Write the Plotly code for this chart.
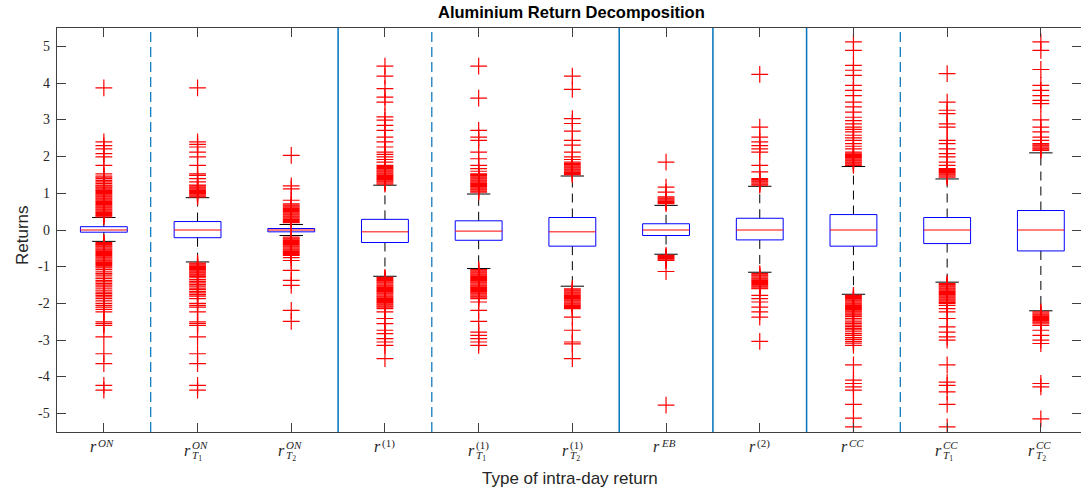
import plotly.graph_objects as go

# ---------------- data ----------------
sup_text = ["ON", "ON", "ON", "(1)", "(1)", "(1)", "EB", "(2)", "CC", "CC", "CC"]
sub_text = ["", "T1", "T2", "", "T1", "T2", "", "", "", "T1", "T2"]

q1 = [-0.06, -0.21, -0.05, -0.34, -0.28, -0.44, -0.15, -0.27, -0.44, -0.37, -0.57]
med = [0.0, 0.0, 0.0, -0.05, -0.03, -0.05, 0.0, 0.0, 0.0, 0.0, 0.0]
q3 = [0.09, 0.23, 0.04, 0.29, 0.25, 0.34, 0.17, 0.32, 0.42, 0.34, 0.53]
lower_fence = [-0.31, -0.87, -0.15, -1.26, -1.05, -1.53, -0.66, -1.15, -1.75, -1.42, -2.20]
upper_fence = [0.34, 0.88, 0.15, 1.22, 0.98, 1.47, 0.67, 1.19, 1.73, 1.39, 2.10]

out1 = [0.36, 0.39, 0.42, 0.45, 0.48, 0.51, 0.54, 0.57, 0.60, 0.63, 0.66, 0.69, 0.72, 0.75,
        0.78, 0.81, 0.84, 0.87, 0.90, 0.93, 0.96, 0.99, 1.02, 1.05, 1.08, 1.11, 1.14, 1.17,
        1.20, 1.22, 1.27, 1.31, 1.35, 1.40, 1.44, 1.47, 1.53, 1.76, 1.99, 2.08, 2.21, 2.30,
        2.40, 3.87,
        -0.34, -0.37, -0.40, -0.43, -0.46, -0.49, -0.52, -0.55, -0.58, -0.61, -0.64, -0.67,
        -0.70, -0.73, -0.76, -0.79, -0.82, -0.85, -0.88, -0.91, -0.94, -0.97, -1.00, -1.03,
        -1.08, -1.14, -1.19, -1.23, -1.28, -1.32, -1.37, -1.41, -1.46, -1.50, -1.55, -1.60,
        -1.64, -1.69, -1.73, -1.78, -1.82, -1.87, -1.93, -2.00, -2.05, -2.10, -2.16, -2.23,
        -2.50, -2.55, -2.60, -2.91, -3.37, -3.64, -4.23, -4.36]
out2 = [0.90, 0.93, 0.96, 0.99, 1.02, 1.05, 1.08, 1.11, 1.14, 1.17, 1.20, 1.22, 1.31, 1.40,
        1.49, 1.53, 1.76, 1.99, 2.12, 2.26, 2.33, 2.40, 3.87,
        -0.90, -0.93, -0.96, -0.99, -1.02, -1.05, -1.08, -1.11, -1.14, -1.17, -1.20, -1.23,
        -1.26, -1.30, -1.35, -1.40, -1.44, -1.49, -1.53, -1.58, -1.62, -1.67, -1.71, -1.76,
        -1.80, -1.87, -2.00, -2.05, -2.10, -2.23, -2.50, -2.55, -2.60, -2.91, -3.37, -3.64,
        -4.23, -4.36]
out3 = [0.20, 0.23, 0.26, 0.29, 0.32, 0.35, 0.38, 0.41, 0.44, 0.47, 0.50, 0.53, 0.56, 0.59,
        0.62, 0.65, 0.68, 0.71, 0.81, 1.12, 1.20, 2.03,
        -0.19, -0.22, -0.25, -0.28, -0.31, -0.34, -0.37, -0.40, -0.43, -0.46, -0.49, -0.52,
        -0.55, -0.58, -0.61, -0.64, -0.67, -0.69, -0.75, -0.83, -1.10, -1.37, -1.51, -2.19,
        -2.49]
out4 = [1.25, 1.28, 1.31, 1.34, 1.37, 1.40, 1.43, 1.46, 1.49, 1.52, 1.55, 1.58, 1.61, 1.64,
        1.67, 1.70, 1.73, 1.76, 1.85, 1.92, 1.99, 2.06, 2.12, 2.26, 2.40, 2.53, 2.71, 2.85,
        2.99, 3.08, 3.48, 3.62, 3.85, 4.19, 4.46,
        -1.29, -1.32, -1.35, -1.38, -1.41, -1.44, -1.47, -1.50, -1.53, -1.56, -1.59, -1.62,
        -1.65, -1.68, -1.71, -1.74, -1.77, -1.80, -1.83, -1.86, -1.89, -1.92, -1.95, -1.98,
        -2.01, -2.04, -2.07, -2.10, -2.14, -2.23, -2.41, -2.55, -2.73, -2.82, -2.96, -3.05,
        -3.14, -3.50]
out5 = [1.03, 1.06, 1.09, 1.12, 1.15, 1.18, 1.21, 1.24, 1.27, 1.30, 1.33, 1.36, 1.39, 1.42,
        1.45, 1.48, 1.51, 1.53, 1.60, 1.67, 1.76, 1.94, 2.12, 2.44, 2.53, 2.71, 3.59, 4.46,
        -1.08, -1.11, -1.14, -1.17, -1.20, -1.23, -1.26, -1.29, -1.32, -1.35, -1.38, -1.41,
        -1.44, -1.47, -1.50, -1.53, -1.56, -1.59, -1.62, -1.65, -1.68, -1.71, -1.74, -1.77,
        -1.80, -1.83, -1.87, -1.96, -2.19, -2.49, -2.78, -2.87, -2.96, -3.05, -3.14]
out6 = [1.51, 1.54, 1.57, 1.60, 1.63, 1.66, 1.69, 1.72, 1.75, 1.78, 1.81, 1.85, 1.92, 1.99,
        2.12, 2.31, 2.44, 2.69, 2.90, 3.03, 3.83, 4.19,
        -1.60, -1.63, -1.66, -1.69, -1.72, -1.75, -1.78, -1.81, -1.84, -1.87, -1.90, -1.93,
        -1.96, -1.99, -2.02, -2.05, -2.08, -2.11, -2.14, -2.37, -2.73, -3.05, -3.10, -3.50]
out7 = [0.72, 0.75, 0.78, 0.81, 0.84, 0.87, 0.90, 1.03, 1.17, 1.85,
        -0.69, -0.72, -0.75, -0.78, -0.81, -0.83, -1.13, -4.77]
out8 = [1.22, 1.25, 1.28, 1.31, 1.34, 1.37, 1.40, 1.58, 1.76, 2.12, 2.21, 2.30, 2.40, 2.53,
        2.80, 4.24,
        -1.19, -1.22, -1.25, -1.28, -1.31, -1.34, -1.37, -1.40, -1.43, -1.46, -1.49, -1.52,
        -1.55, -1.58, -1.60, -1.78, -1.87, -1.96, -2.10, -2.23, -2.37, -3.03]
out9 = [1.76, 1.79, 1.82, 1.85, 1.88, 1.91, 1.94, 1.97, 2.00, 2.03, 2.06, 2.09, 2.12, 2.21,
        2.28, 2.35, 2.44, 2.51, 2.58, 2.67, 2.74, 2.80, 2.89, 2.98, 3.07, 3.21, 3.35, 3.48,
        3.66, 3.80, 3.94, 4.21, 4.35, 4.48, 4.89, 5.12,
        -1.78, -1.81, -1.84, -1.87, -1.90, -1.93, -1.96, -1.99, -2.02, -2.05, -2.08, -2.11,
        -2.14, -2.17, -2.20, -2.23, -2.26, -2.29, -2.32, -2.36, -2.41, -2.45, -2.50, -2.54,
        -2.59, -2.63, -2.68, -2.72, -2.77, -2.82, -2.87, -2.93, -2.98, -3.03, -3.08, -3.14,
        -3.67, -4.09, -4.18, -4.27, -4.36, -4.75, -5.12, -5.36]
out10 = [1.44, 1.47, 1.50, 1.53, 1.56, 1.59, 1.62, 1.65, 1.67, 1.76, 1.85, 1.99, 2.08, 2.21,
         2.35, 2.44, 2.80, 2.89, 3.17, 3.26, 3.48, 4.26,
         -1.46, -1.49, -1.52, -1.55, -1.58, -1.61, -1.64, -1.67, -1.70, -1.73, -1.76, -1.79,
         -1.82, -1.85, -1.88, -1.91, -1.94, -1.97, -2.00, -2.05, -2.14, -2.23, -2.41, -2.64,
         -2.78, -2.91, -3.00, -3.67, -4.14, -4.23, -4.41, -4.75, -5.36]
out11 = [2.17, 2.20, 2.23, 2.26, 2.29, 2.32, 2.35, 2.44, 2.53, 2.67, 2.80, 3.00, 3.44, 3.53,
         3.66, 3.80, 3.94, 4.37, 4.89, 5.12,
         -2.23, -2.26, -2.29, -2.32, -2.35, -2.38, -2.41, -2.44, -2.47, -2.50, -2.53, -2.56,
         -2.60, -2.73, -2.87, -3.00, -3.09, -4.18, -4.27, -5.14]
outliers = [out1, out2, out3, out4, out5, out6, out7, out8, out9, out10, out11]

sep_solid = [3.5, 6.5, 7.5, 8.5]
sep_dashed = [1.5, 4.5, 9.5]

ytick_vals = [-5, -4, -3, -2, -1, 0, 1, 2, 3, 4, 5]
ytick_text = ["-5", "-4", "-3", "-2", "-1", "0", "1", "2", "3", "4", "5"]

# ---------------- style ----------------
BW = 0.25   # half box width
CW = 0.125  # half cap width
AX = "#404040"
SEP = "#0072BD"
W, H = 1081, 495
ML, MT, MB = 57, 28, 63
PX_PER_UNIT = 93.7
x_max = 0.5 + (W - ML) / PX_PER_UNIT

n = len(q1)
xs = list(range(1, n + 1))

fig = go.Figure()

# separators
for xv in sep_solid:
    fig.add_trace(go.Scatter(x=[xv, xv], y=[-5.5, 5.5], mode="lines",
                             line=dict(color=SEP, width=1.5), hoverinfo="skip", showlegend=False))
for xv in sep_dashed:
    fig.add_trace(go.Scatter(x=[xv, xv], y=[-5.5, 5.5], mode="lines",
                             line=dict(color=SEP, width=1.2, dash="10px,5px"),
                             hoverinfo="skip", showlegend=False))

# whiskers (dashed black)
wx, wy = [], []
for i in range(n):
    c = xs[i]
    wx += [c, c, None, c, c, None]
    wy += [q3[i], upper_fence[i], None, q1[i], lower_fence[i], None]
fig.add_trace(go.Scatter(x=wx, y=wy, mode="lines", line=dict(color="black", width=1, dash="9px,6px"),
                         hoverinfo="skip", showlegend=False))

# caps
cx, cy = [], []
for i in range(n):
    c = xs[i]
    cx += [c - CW, c + CW, None, c - CW, c + CW, None]
    cy += [upper_fence[i], upper_fence[i], None, lower_fence[i], lower_fence[i], None]
fig.add_trace(go.Scatter(x=cx, y=cy, mode="lines", line=dict(color="black", width=1),
                         hoverinfo="skip", showlegend=False))

# boxes
bx, by = [], []
for i in range(n):
    c = xs[i]
    bx += [c - BW, c + BW, c + BW, c - BW, c - BW, None]
    by += [q1[i], q1[i], q3[i], q3[i], q1[i], None]
fig.add_trace(go.Scatter(x=bx, y=by, mode="lines", line=dict(color="#0000FF", width=1),
                         hoverinfo="skip", showlegend=False))

# medians
mx, my = [], []
for i in range(n):
    c = xs[i]
    mx += [c - BW, c + BW, None]
    my += [med[i], med[i], None]
fig.add_trace(go.Scatter(x=mx, y=my, mode="lines", line=dict(color="#FF0000", width=1),
                         hoverinfo="skip", showlegend=False))

# outliers
for i in range(n):
    fig.add_trace(go.Scatter(x=[xs[i]] * len(outliers[i]), y=outliers[i], mode="markers",
                             marker=dict(symbol="cross-thin", size=12,
                                         line=dict(color="#FF0000", width=1.2)),
                             hoverinfo="y", showlegend=False))

# x tick labels (math-style) via annotations
script_w = {"ON": 20, "(1)": 14, "(2)": 14, "EB": 19, "CC": 18, "T1": 13, "T2": 13, "": 0}
SERIF = "Liberation Serif"
TXT = "#262626"
annotations = []
for i in range(n):
    w = max(script_w[sup_text[i]], script_w[sub_text[i]])
    s = (7 - w) / 2.0
    has_sub = sub_text[i] != ""
    r_y = -18 if has_sub else -14
    sup_y = -13 if has_sub else -11
    sup_label = sup_text[i] if sup_text[i] in ("(1)", "(2)") else "<i>%s</i>" % sup_text[i]
    annotations.append(dict(x=xs[i], y=0, xref="x", yref="paper", text="<i>r</i>",
                            showarrow=False, xanchor="right", yanchor="middle", borderpad=0,
                            xshift=s + 1, yshift=r_y, font=dict(family=SERIF, size=16, color=TXT)))
    annotations.append(dict(x=xs[i], y=0, xref="x", yref="paper", text=sup_label,
                            showarrow=False, xanchor="left", yanchor="middle", borderpad=0,
                            xshift=s, yshift=sup_y, font=dict(family=SERIF, size=11, color=TXT)))
    if has_sub:
        annotations.append(dict(x=xs[i], y=0, xref="x", yref="paper",
                                text="<i>%s</i><sub>%s</sub>" % (sub_text[i][0], sub_text[i][1]),
                                showarrow=False, xanchor="left", yanchor="middle", borderpad=0,
                                xshift=s, yshift=-24, font=dict(family=SERIF, size=11, color=TXT)))

# y tick labels via annotations (placed close to axis like the reference)
for v, t in zip(ytick_vals, ytick_text):
    annotations.append(dict(x=0, y=v, xref="paper", yref="y", text=t, showarrow=False,
                            xanchor="right", yanchor="middle", borderpad=0, xshift=-6,
                            font=dict(family=SERIF, size=14, color=TXT)))

# titles
annotations.append(dict(x=(571 - ML) / (W - ML), y=1, xref="paper", yref="paper",
                        text="<b>Aluminium Return Decomposition</b>", showarrow=False,
                        xanchor="center", yanchor="middle", yshift=16,
                        font=dict(family="Liberation Sans", size=16.5, color="black")))
annotations.append(dict(x=(570 - ML) / (W - ML), y=0, xref="paper", yref="paper",
                        text="Type of intra-day return", showarrow=False,
                        xanchor="center", yanchor="middle", yshift=-46,
                        font=dict(family="Liberation Sans", size=17, color=TXT)))
annotations.append(dict(x=0, y=(H - MB - 235) / (H - MB - MT), xref="paper", yref="paper",
                        text="Returns", showarrow=False, textangle=-90,
                        xanchor="center", yanchor="middle", xshift=-35,
                        font=dict(family="Liberation Sans", size=17, color=TXT)))

fig.update_layout(
    width=W, height=H,
    margin=dict(l=ML, r=0, t=MT, b=MB, pad=0),
    paper_bgcolor="white", plot_bgcolor="white",
    showlegend=False,
    annotations=annotations,
    xaxis=dict(range=[0.5, x_max], tickmode="array", tickvals=xs, showticklabels=False,
               ticks="inside", ticklen=9, tickcolor=AX, tickwidth=1,
               showline=True, linecolor=AX, linewidth=1, mirror="ticks",
               showgrid=False, zeroline=False, automargin=False),
    yaxis=dict(range=[-5.5, 5.5], tickmode="array", tickvals=ytick_vals, showticklabels=False,
               ticks="inside", ticklen=9, tickcolor=AX, tickwidth=1,
               showline=True, linecolor=AX, linewidth=1, mirror="ticks",
               showgrid=False, zeroline=False, automargin=False),
)

fig.write_html("out.html", config={"displayModeBar": False},
               post_script="document.body.style.margin='0px';document.body.style.overflow='hidden';")
